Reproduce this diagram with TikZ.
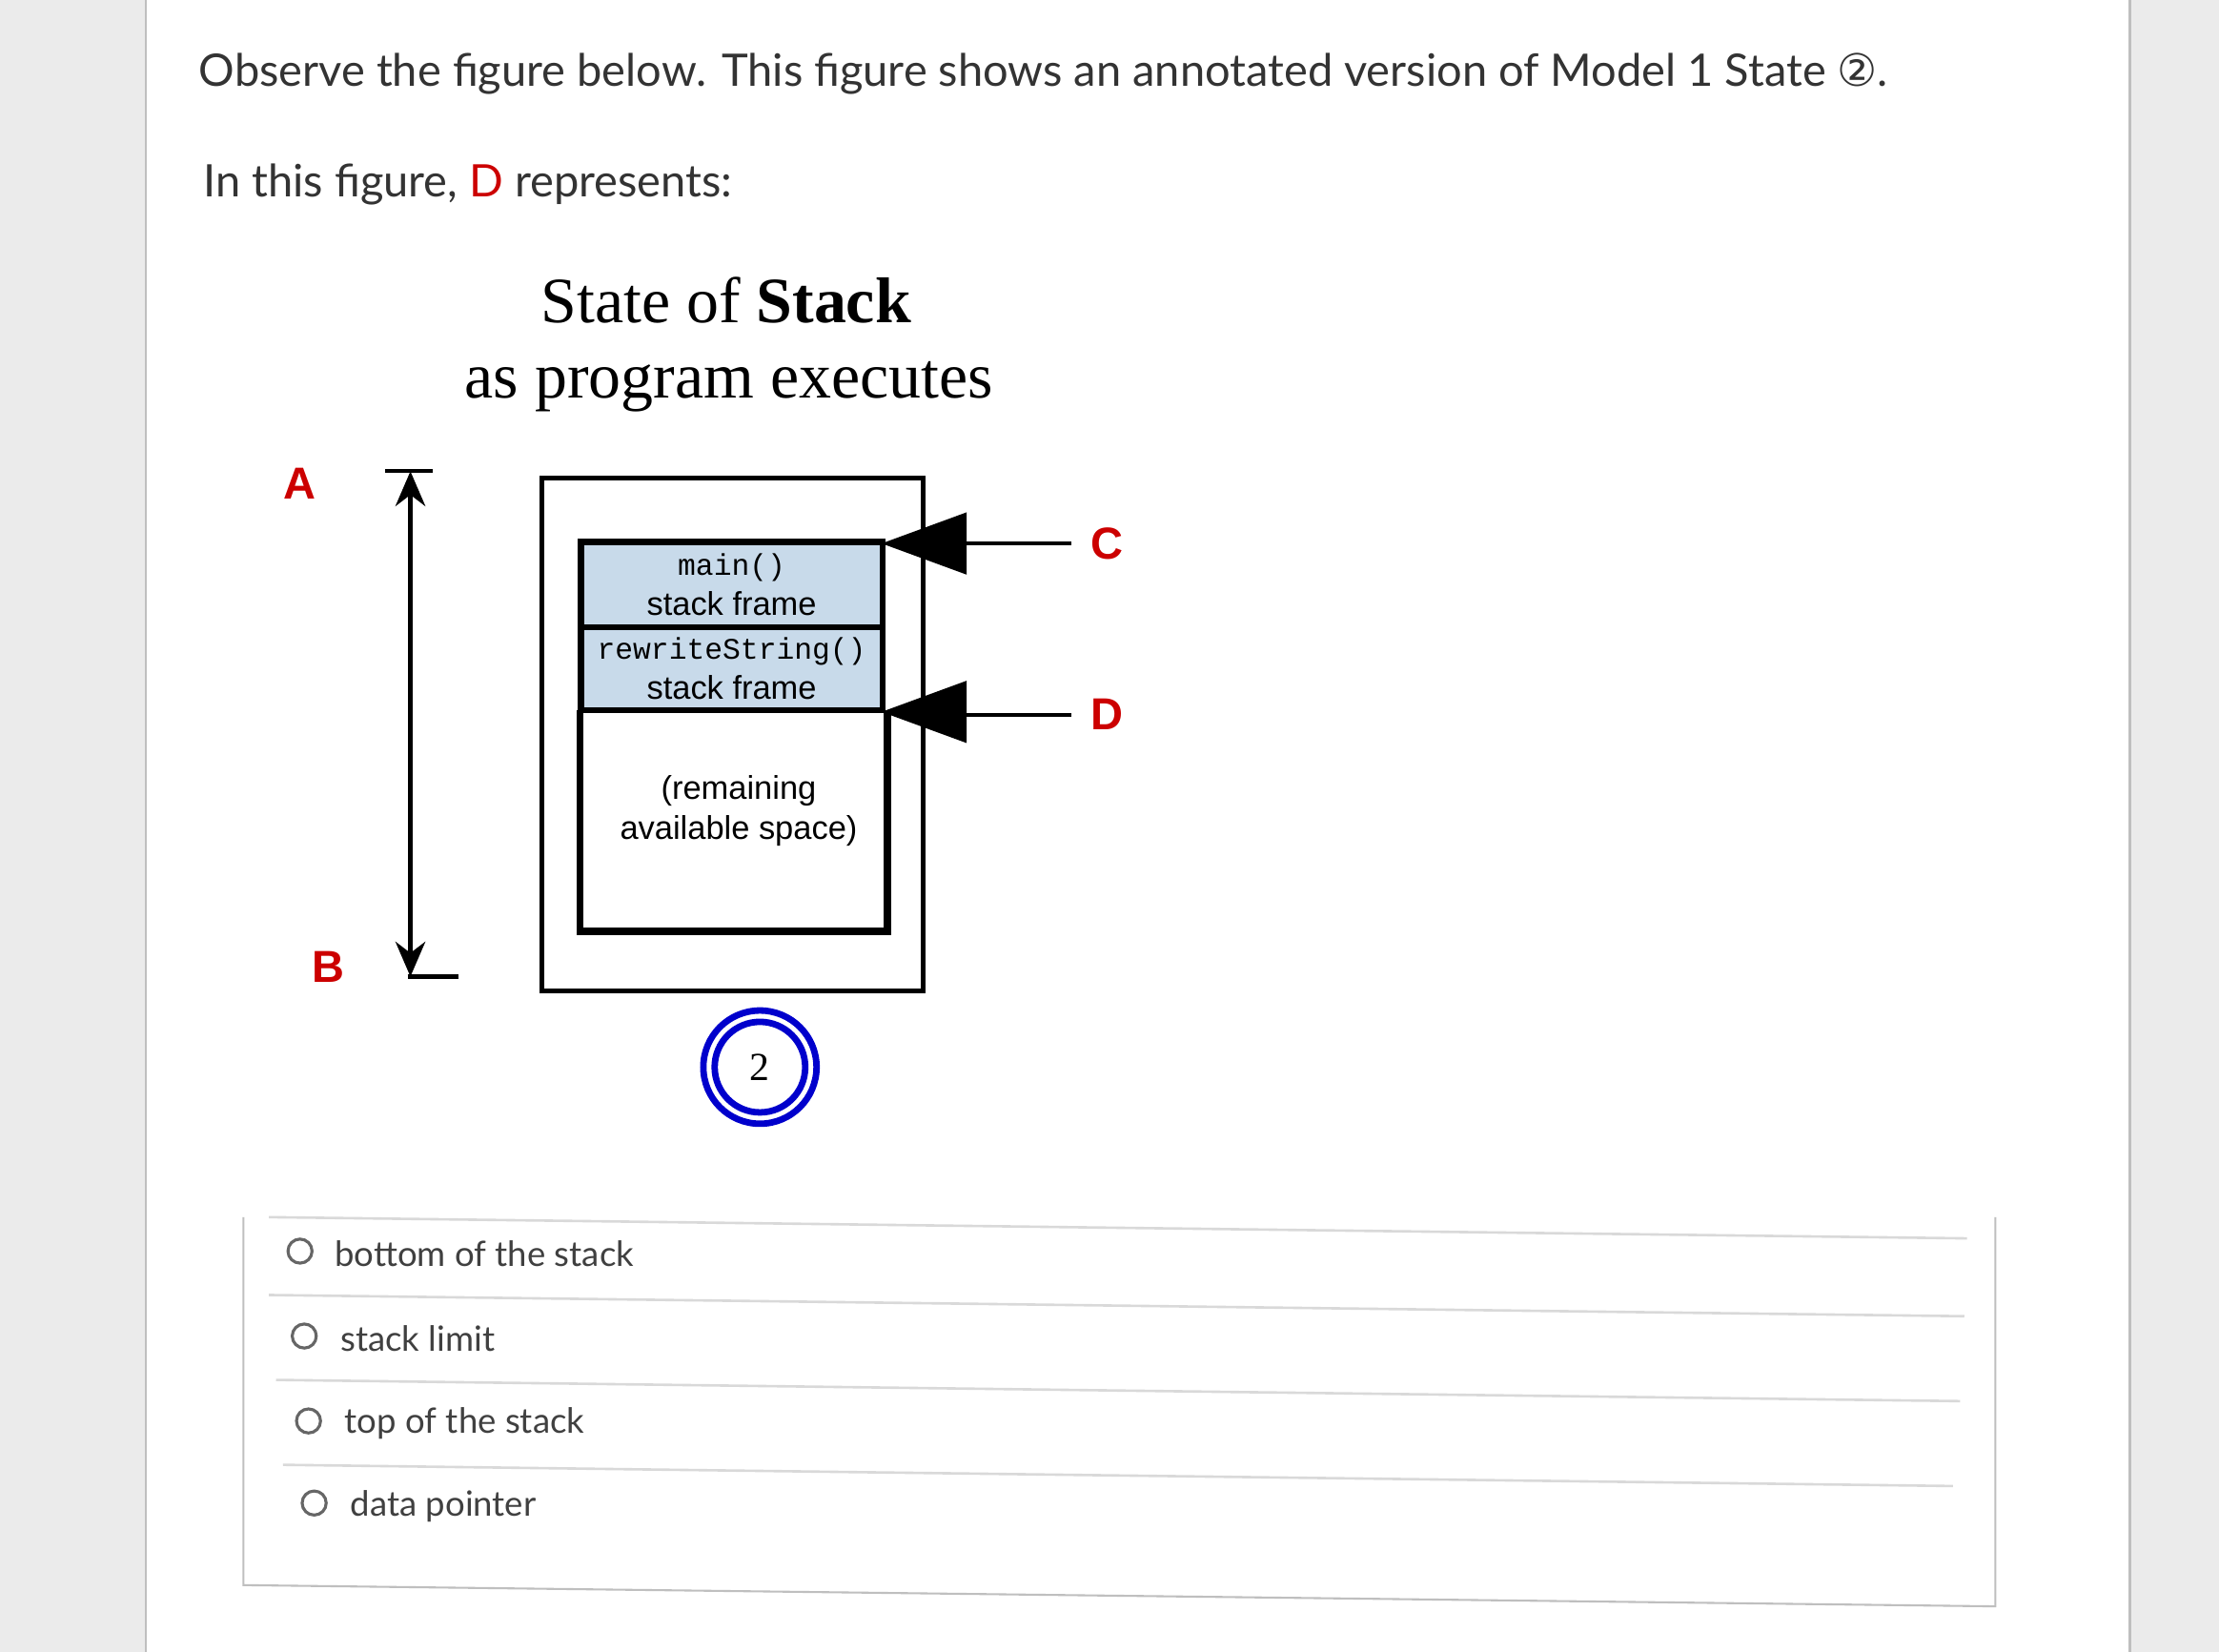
\documentclass[tikz,border=0pt]{standalone}
\usetikzlibrary{arrows.meta}
\usepackage{fontspec}
\setmainfont{Lato}
\newfontfamily\serifX{Liberation Serif}
\newfontfamily\sansX{Liberation Sans}
\newfontfamily\monoX{Liberation Mono}
\newfontfamily\dejaX{DejaVu Sans}
\definecolor{framefill}{HTML}{C8DAEA}
\begin{document}
\begin{tikzpicture}[x=0.01cm,y=-0.01cm,
  qtext/.style={anchor=west,inner sep=0,font=\fontsize{9pt}{11pt}\selectfont,text=black!80},
  opttext/.style={anchor=west,inner sep=0,font=\fontsize{7pt}{8pt}\selectfont,text=black!75},
  lab/.style={font=\sansX\bfseries\fontsize{9pt}{10pt}\selectfont,text=red!80!black},
  frametext/.style={font=\sansX\fontsize{6.6pt}{8pt}\selectfont,align=center},
  radio/.style={circle,draw=black!60,line width=0.6pt,minimum size=0.17cm,inner sep=0},
  sep/.style={draw=black!15,line width=0.5pt},
  ptr/.style={fill=black}]
\useasboundingbox (0,0) rectangle (1568,1167);
\fill[black!8] (0,0) rectangle (1568,1167);
\fill[white] (103,0) rectangle (1505,1167);
\draw[black!25] (103,0) -- (103,1167);
\draw[black!25] (1505,0) -- (1505,1167);
\draw[black!25] (172,860) -- (172,1120) -- (1410,1135) -- (1410,860);
% question
\node[qtext] (q1) at (140,52) {Observe the figure below. This figure shows an annotated version of Model 1 State {\dejaX ②}.};
\node[qtext] (q2) at (143,130) {In this figure, \textcolor{red!80!black}{D} represents:};
% title
\node[font=\serifX\fontsize{13pt}{15pt}\selectfont] (t1) at (513,212) {State of \textbf{Stack}};
\node[font=\serifX\fontsize{13pt}{15pt}\selectfont] (t2) at (515,273) {as program executes};
% labels
\node[lab] (A) at (212,342) {A};
\node[lab] (B) at (232,683) {B};
\coordinate (atop) at (290,333);
\coordinate (abot) at (290,690);
\draw[line width=0.8pt] (272,333) -- (306,333);
\draw[line width=0.8pt] (288,690) -- (324,690);
\draw[line width=0.8pt,{Stealth[length=7pt,width=6pt]}-{Stealth[length=7pt,width=6pt]}] (atop) -- (abot);
% stack
\node[draw,line width=1pt,minimum width=2.69cm,minimum height=3.62cm,inner sep=0] (outer) at (517.5,519) {};
\node[draw,line width=1.2pt,fill=framefill,minimum width=2.13cm,minimum height=0.6cm,inner sep=0] (mainf) at (517,413) {};
\node[frametext] at (517,413) {{\monoX\fontsize{6pt}{8pt}\selectfont main()}\\stack frame};
\node[draw,line width=1.2pt,fill=framefill,minimum width=2.13cm,minimum height=0.59cm,inner sep=0] (rwf) at (517,472.5) {};
\node[frametext] at (517,472.5) {{\monoX\fontsize{6pt}{8pt}\selectfont rewriteString()}\\stack frame};
\draw[line width=1.4pt] (410,502) -- (410,658) -- (627,658) -- (627,502);
\node[frametext] (rem) at (522,573) {(remaining\\available space)};
% pointers
\fill[ptr] (623,384) -- (683,362) -- (683,406) -- cycle;
\draw[line width=0.8pt] (683,384) -- (757,384);
\node[lab] (C) at (782,384) {C};
\fill[ptr] (623,503) -- (683,481) -- (683,525) -- cycle;
\draw[line width=0.8pt] (683,505) -- (757,505);
\node[lab] (D) at (782,505) {D};
% state circle
\draw[blue!80!black,line width=1.3pt] (537,754) circle (40);
\draw[blue!80!black,line width=1.3pt] (537,754) circle (32);
\node[font=\serifX\fontsize{8pt}{9pt}\selectfont] (n2) at (537,754) {2};
% options
\draw[sep] (190,860) -- (1390,875);
\draw[sep] (190,915) -- (1388,930);
\draw[sep] (195,975) -- (1385,990);
\draw[sep] (200,1035) -- (1380,1050);
\node[radio] (r1) at (212,884) {}; \node[opttext] (o1) at (236,886) {bottom of the stack};
\node[radio] (r2) at (215,944) {}; \node[opttext] (o2) at (240,946) {stack limit};
\node[radio] (r3) at (218,1004) {}; \node[opttext] (o3) at (243,1006) {top of the stack};
\node[radio] (r4) at (222,1062) {}; \node[opttext] (o4) at (247,1064) {data pointer};
\end{tikzpicture}
\end{document}
